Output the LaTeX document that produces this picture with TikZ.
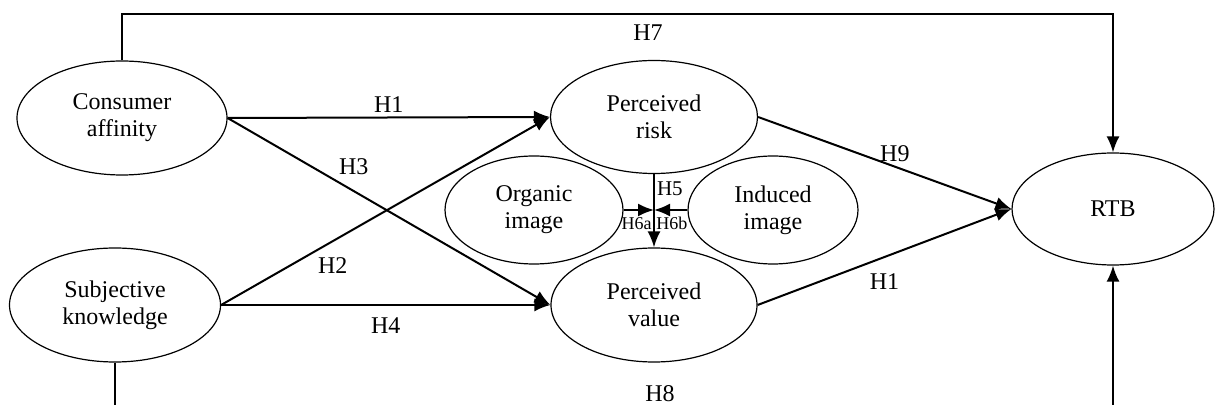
\documentclass[tikz,border=0pt]{standalone}
\usepackage{fontspec}
\setmainfont{Liberation Serif}
\usetikzlibrary{shapes.geometric,arrows.meta}
\tikzset{>={Latex[length=8pt,width=6.5pt]}}
\tikzset{
  latent/.style={draw, ellipse, line width=0.6pt, inner sep=0pt, align=center, font=\fontsize{12}{13.5}\selectfont},
  hyp/.style={font=\fontsize{12}{14}\selectfont, inner sep=2pt},
  hypsmall/.style={font=\fontsize{9}{10}\selectfont, inner sep=1pt},
  link/.style={line width=1pt, ->}
}

\begin{document}
\begin{tikzpicture}[x=0.5pt,y=-0.5pt]
\useasboundingbox (0,0) rectangle (1215,405);
\clip (0,0) rectangle (1215,405);
%%%% constructs
\node[latent, minimum width=105pt, minimum height=57pt] (ca) at (122,118) {Consumer\\affinity};
\node[latent, minimum width=105.5pt, minimum height=57pt] (sk) at (115,305) {Subjective\\knowledge};
\node[latent, minimum width=103.5pt, minimum height=56.5pt] (pr) at (654,117) {Perceived\\risk};
\node[latent, minimum width=103pt, minimum height=57pt] (pv) at (654,305) {Perceived\\value};
\node[latent, minimum width=89pt, minimum height=54pt] (oi) at (534,210) {Organic\\image};
\node[latent, minimum width=85pt, minimum height=54pt] (ii) at (773,210) {Induced\\image};
\node[latent, minimum width=101pt, minimum height=56pt] (rtb) at (1113,209) {RTB};
%%%% direct paths
\draw[link] (ca.east) -- node[hyp, above] {H1} (pr.west);
\draw[link] (ca.east) -- node[hyp, pos=0.33, anchor=south west] {H3} (pv.west);
\draw[link] (sk.east) -- node[hyp, pos=0.28, anchor=north west] {H2} (pr.west);
\draw[link] (sk.east) -- node[hyp, below=4pt] {H4} (pv.west);
\draw[link] (pr.east) -- node[hyp, pos=0.54, above] {H9} (rtb.west);
\draw[link] (pv.east) -- node[hyp, below=6pt] {H1} (rtb.west);
%%%% moderation on H5
\draw[link] (pr.south) -- node[hypsmall, font=\fontsize{10.5}{12}\selectfont, pos=0.2, right] {H5} (pv.north);
\coordinate (j) at (pr.south |- oi.east);
\draw[link] (oi.east) -- (j);
\draw[link] (ii.west) -- (j);
\node[hypsmall, anchor=north east] (h6a) at ([yshift=-2.5pt]j) {H6a};
\node[hypsmall, anchor=north west] (h6b) at ([yshift=-2.5pt]j) {H6b};
%%%% long paths to RTB
\coordinate (top) at (648,14);
\draw[link] (ca.north) |- (top) node[hyp, below=3pt] {H7} -| (rtb.north);
\coordinate (bot) at (660,413);
\draw[link] (sk.south) |- (bot) node[hyp, above=3pt] {H8} -| (rtb.south);
\end{tikzpicture}
\end{document}
